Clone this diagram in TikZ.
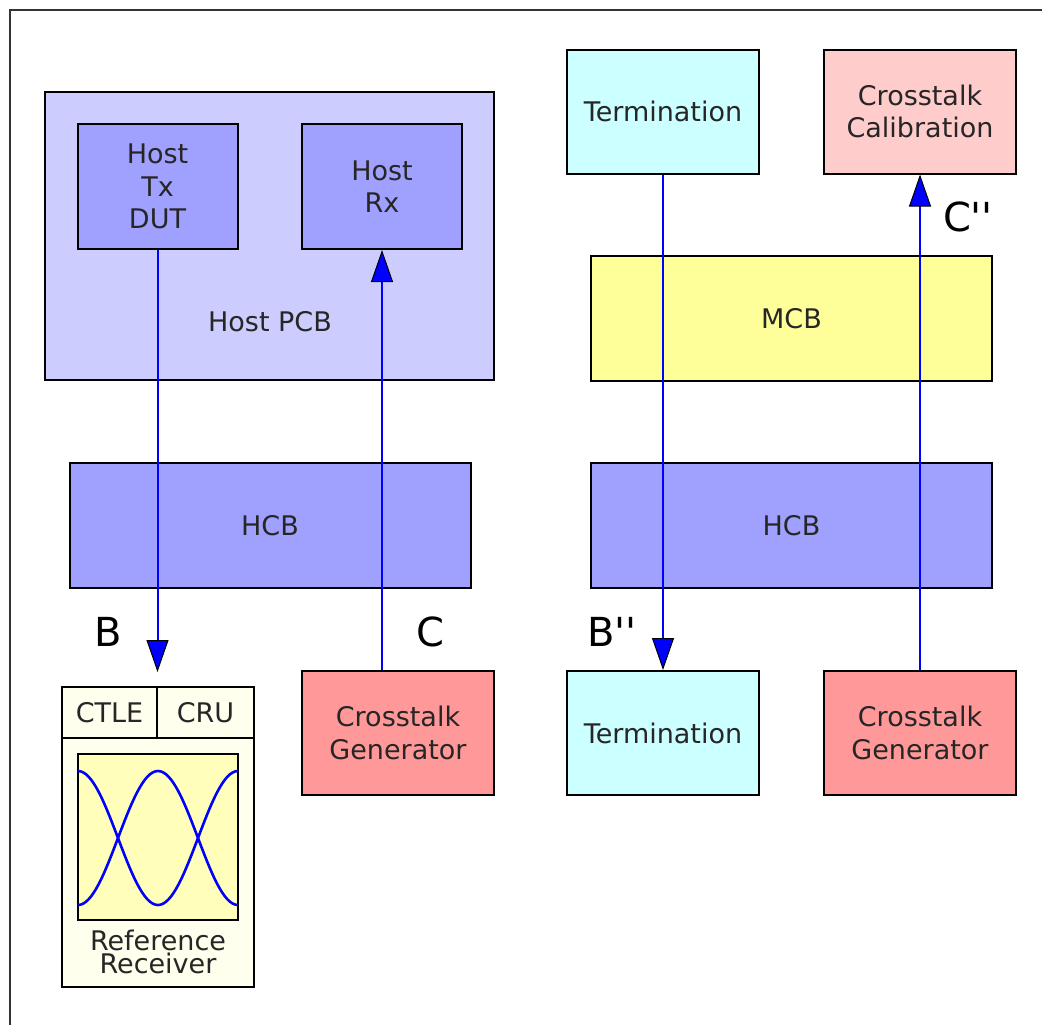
\documentclass[tikz,border=0pt]{standalone}
\usepackage{fontspec}
\setmainfont{DejaVu Sans}
\newfontfamily\portfont{DejaVu Sans}[Ligatures=TeXOff]
\usetikzlibrary{arrows.meta}
\definecolor{pcbfill}{RGB}{204,204,255}
\definecolor{hostfill}{RGB}{160,160,255}
\definecolor{termfill}{RGB}{204,255,255}
\definecolor{xtalkfill}{RGB}{255,153,153}
\definecolor{calfill}{RGB}{255,204,204}
\definecolor{mcbfill}{RGB}{255,255,153}
\definecolor{rxfill}{RGB}{255,255,238}
\definecolor{eyefill}{RGB}{255,255,187}
\tikzstyle{block} = [rectangle, draw=black, line width=1pt, align=center, inner sep=0pt, text=black!85, font=\fontsize{13.5}{16.25}\selectfont]
\tikzstyle{host} = [block, minimum width=80pt, minimum height=62.5pt, fill=hostfill]
\tikzstyle{board} = [block, minimum width=200.5pt, minimum height=62.5pt]
\tikzstyle{small} = [block, minimum width=96pt, minimum height=62pt]
\tikzstyle{cell} = [block, minimum height=25.5pt, fill=rxfill]
\tikzstyle{signal} = [blue, line width=1pt, -{Triangle[length=16pt, width=11pt, fill=blue, color=black, line width=0.5pt]}]
\tikzstyle{portlabel} = [font=\portfont\fontsize{20}{24}\selectfont]

\begin{document}
\begin{tikzpicture}[x=0.5pt, y=-0.5pt]
\path[use as bounding box, clip] (0,0) rectangle (1042,1024);
\draw[line width=1.2pt, black!80] (10,10) rectangle (1060,1040);
% host side
\node (pcb) [block, minimum width=224.5pt, minimum height=144pt, fill=pcbfill] at (269.5,236) {};
\node (pcblabel) [block, draw=none] at (270,322) {Host PCB};
\node (hosttx) [host] at (157.5,186.5) {Host\\Tx\\DUT};
\node (hostrx) [host] at (382,186.5) {Host\\Rx};
\node (hcbl) [board, fill=hostfill] at (270,525.5) {HCB};
\node (xgenl) [small, fill=xtalkfill] at (398,733) {Crosstalk\\Generator};
% reference receiver
\node (rx) [block, minimum width=96pt, minimum height=150pt, fill=rxfill] at (158,837) {};
\node (ctle) [cell, minimum width=47.5pt] at (109.5,712.5) {CTLE};
\node (cru) [cell, minimum width=48.5pt] at (205.5,712.5) {CRU};
\node (eye) [block, minimum width=80pt, minimum height=83pt, fill=eyefill] at (158,837) {};
\draw[blue, line width=1.3pt] (78,771) cos (118,838) sin (158,905) cos (198,838) sin (238,771);
\draw[blue, line width=1.3pt] (78,905) cos (118,838) sin (158,771) cos (198,838) sin (238,905);
\node (rxlabel) [block, draw=none, font=\fontsize{13.5}{9}\selectfont] at (158,952) {Reference\\Receiver};
% module side
\node (termtop) [small, fill=termfill] at (663,111.5) {Termination};
\node (cal) [small, fill=calfill] at (920,111.5) {Crosstalk\\Calibration};
\node (mcb) [board, fill=mcbfill] at (791.5,318.5) {MCB};
\node (hcbr) [board, fill=hostfill] at (791.5,525.5) {HCB};
\node (termbot) [small, fill=termfill] at (663,733) {Termination};
\node (xgenr) [small, fill=xtalkfill] at (920,733) {Crosstalk\\Generator};
% signal paths
\coordinate (rxin) at (157.5,672);
\draw [signal] (hosttx.south) -- (rxin);
\draw [signal] (hostrx.south |- xgenl.north) -- (hostrx.south);
\draw [signal] (termtop.south) -- (termbot.north);
\draw [signal] (xgenr.north) -- (cal.south);
\node (lblB) [portlabel] at (108,632) {B};
\node (lblC) [portlabel] at (430,632) {C};
\node (lblBB) [portlabel] at (612,632) {B''};
\node (lblCC) [portlabel] at (968,217) {C''};
\end{tikzpicture}
\end{document}
